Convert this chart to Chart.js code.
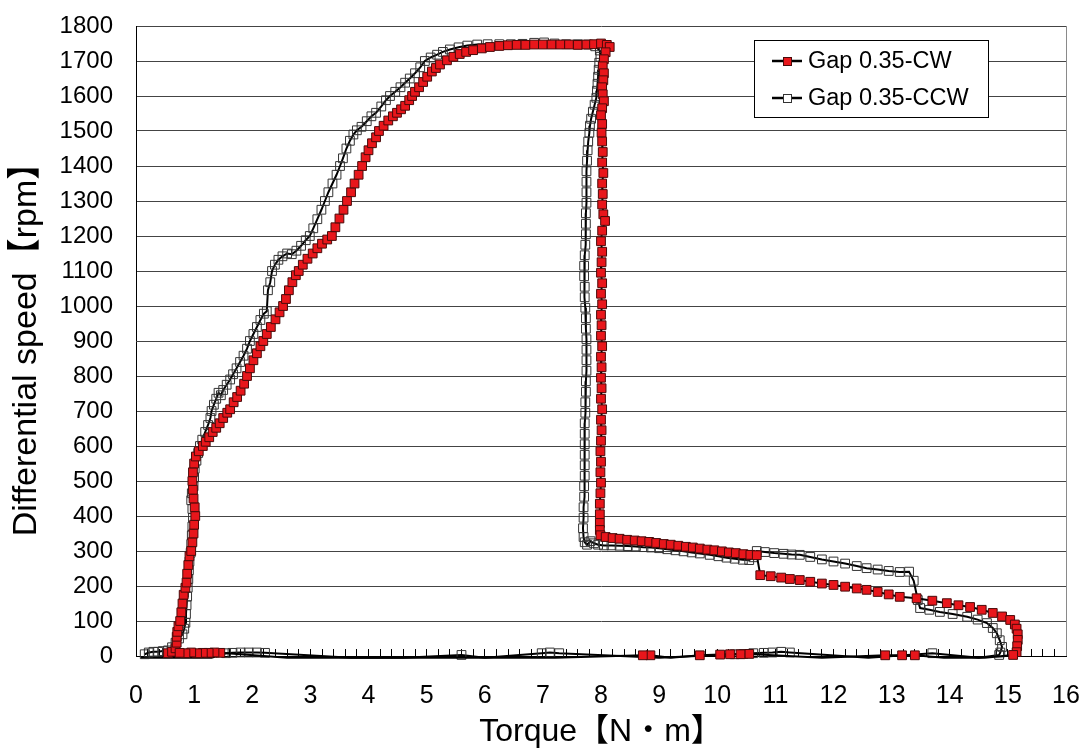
<!DOCTYPE html>
<html>
<head>
<meta charset="utf-8">
<script src="https://cdn.jsdelivr.net/npm/chart.js@4.4.1/dist/chart.umd.min.js"></script>
<style>
  html, body { margin: 0; padding: 0; background: #fff; }
  #c { display: block; }
</style>
</head>
<body>
<canvas id="c" width="1085" height="751"></canvas>
<script>
// ---------- DATA ----------
const seriesLabels = ['Gap 0.35-CW', 'Gap 0.35-CCW'];
const xTicksMin = 0, xTicksMax = 16;
const yTicksMin = 0, yTicksMax = 1800, yTickStep = 100;

// CW: rise along the left branch to the 1750 rpm plateau
const cwRiseT = [0.55,0.62,0.68,0.7,0.7,0.71,0.73,0.76,0.78,0.8, 0.82,0.85,0.87,0.88,0.9,0.92,0.95,0.97,0.99,1.0, 1.02,1.01,0.99,0.98,0.97,0.98,1.0,1.03,1.08,1.15, 1.2,1.26,1.32,1.38,1.44,1.5,1.57,1.62,1.68,1.74, 1.8,1.86,1.91,1.96,2.02,2.08,2.14,2.19,2.25,2.32, 2.4,2.47,2.53,2.58,2.63,2.69,2.75,2.8,2.87,2.95, 3.04,3.12,3.2,3.29,3.37,3.43,3.5,3.57,3.63,3.7, 3.76,3.83,3.89,3.95,4.0,4.06,4.13,4.18,4.26,4.34, 4.42,4.49,4.56,4.63,4.7,4.75,4.8,4.87,4.94,5.01, 5.09,5.16,5.23,5.35,5.46,5.57,5.68,5.8,5.95,6.09, 6.25,6.4,6.55,6.7,6.85,7.0,7.15,7.3,7.45,7.6, 7.75,7.88,8.0,8.1,8.15];
const cwRiseS = [8,12,22,38,55,69,85,100,125,150, 175,195,210,235,260,285,300,325,350,375, 400,425,450,475,500,525,550,570,585,600, 612,625,640,652,665,680,695,705,725,740, 758,778,800,822,845,865,885,900,920,940, 962,982,1000,1020,1045,1068,1088,1100,1118,1135, 1150,1165,1178,1190,1200,1225,1250,1275,1300,1325, 1350,1375,1400,1425,1445,1465,1482,1500,1515,1530, 1542,1552,1562,1572,1588,1600,1612,1625,1640,1655, 1670,1680,1690,1702,1712,1720,1726,1731,1736,1740, 1743,1745,1746,1746,1747,1747,1747,1747,1747,1746, 1747,1748,1750,1746,1740];
// CW: vertical drop at ~8 N·m
const cwDropT = [8.08,8.05,8.03,8.05,8.04,8.02,8.03,8.05,8.02,8.0, 8.02,8.01,8.02,8.03,8.02,8.04,8.02,8.03,8.02,8.04, 8.07,8.02,8.0,8.02,8.01,8.0,8.02,8.0,8.02,8.0, 8.01,8.0,8.02,8.0,8.01,8.0,8.01,8.0,8.02,8.0, 8.01,8.0,7.99,8.0,7.99,8.0,7.99,7.98,7.98,7.98, 7.98,7.99];
const cwDropS = [1725,1705,1685,1665,1645,1625,1605,1585,1565,1545, 1520,1495,1470,1440,1410,1380,1350,1320,1290,1262, 1243,1215,1185,1155,1125,1095,1065,1035,1005,975, 945,915,885,855,825,795,765,735,705,675, 645,615,585,555,525,495,465,435,405,380, 360,345];
// CW: low-speed run to ~15 N·m
const cwRunT = [8.08,8.2,8.32,8.45,8.58,8.7,8.83,8.95,9.08,9.2, 9.33,9.46,9.58,9.7,9.83,9.95,10.08,10.2,10.32,10.45, 10.57,10.68,10.74,10.92,11.1,11.25,11.42,11.6,11.8,12.0, 12.2,12.4,12.57,12.76,12.95,13.14,13.43,13.7,13.95,14.15, 14.35,14.55,14.74,14.9,15.04,15.12,15.15,15.17,15.17,15.16, 15.15,15.09];
const cwRunS = [340,337,335,332,330,328,326,323,320,318, 315,312,310,307,304,302,299,296,294,291, 289,288,231,228,224,220,217,212,207,203, 198,193,189,183,176,169,165,158,151,145, 140,132,123,113,103,90,78,62,46,28, 11,3];
// CW: return along zero speed
const cwBackT = [14.6,13.9,13.4,13.18,12.89,11.8,10.55,10.4,10.22,10.05, 9.7,9.2,8.85,8.72,7.2,5.5,3.97,3.65,2.6, 1.45,1.35,1.25,1.15,1.05,0.95,0.85,0.75];
const cwBackS = [-5,-5,2,2,2,-5,6,5,5,4, 2,-5,2,2,-5,-5,-5,-5,-5, 9,10,9,9,8,10,8,9];

// CCW: rise
const ccwRiseT = [0.15,0.22,0.3,0.38,0.46,0.55,0.62,0.68,0.74,0.8, 0.83,0.85,0.86,0.87,0.88,0.89,0.9,0.91,0.92,0.94, 0.95,0.96,0.97,0.98,0.97,0.95,0.96,0.99,1.0,1.01, 1.04,1.07,1.1,1.14,1.19,1.24,1.28,1.3,1.34,1.38, 1.42,1.46,1.5,1.56,1.62,1.67,1.73,1.79,1.85,1.91, 1.96,2.02,2.08,2.14,2.2,2.25,2.27,2.31,2.34,2.39, 2.45,2.52,2.6,2.68,2.76,2.84,2.92,2.99,3.05,3.12, 3.19,3.25,3.31,3.38,3.45,3.51,3.56,3.62,3.68,3.74, 3.8,3.88,3.97,4.05,4.13,4.22,4.3,4.37,4.46,4.55, 4.63,4.71,4.8,4.89,4.97,5.07,5.18,5.28,5.4,5.55, 5.7,5.87,6.05,6.25,6.45,6.65,6.85,7.02,7.2,7.4, 7.6,7.78,7.9,7.98];
const ccwRiseS = [5,10,12,12,14,16,25,38,50,62, 78,95,120,145,170,195,220,245,270,295, 320,345,370,395,420,445,465,485,510,535, 558,580,600,618,640,660,680,700,718,735, 752,745,760,775,790,805,822,840,858,878, 900,920,940,960,978,985,1045,1068,1100,1118, 1132,1142,1150,1148,1158,1172,1188,1200,1222,1248, 1275,1300,1325,1350,1375,1400,1422,1450,1472,1490, 1502,1512,1528,1542,1552,1570,1588,1600,1612,1625, 1638,1650,1665,1682,1700,1710,1718,1726,1733,1739, 1744,1747,1748,1748,1748,1749,1752,1753,1750,1748, 1748,1747,1742,1730];
// CCW: vertical drop at ~7.7 N·m
const ccwDropT = [7.99,7.97,7.96,7.95,7.94,7.93,7.92,7.89,7.86,7.83, 7.81,7.8,7.78,7.77,7.76,7.75,7.75,7.75,7.75,7.74, 7.74,7.74,7.73,7.72,7.71,7.71,7.72,7.72,7.73,7.74, 7.74,7.75,7.75,7.75,7.75,7.74,7.74,7.73,7.73,7.72, 7.72,7.72,7.72,7.72,7.72,7.71,7.71,7.7,7.7,7.69, 7.7,7.72,7.76];
const ccwDropS = [1712,1695,1675,1655,1635,1615,1595,1575,1555,1535, 1515,1495,1470,1445,1415,1385,1355,1325,1295,1265, 1235,1205,1175,1145,1115,1085,1055,1025,995,965, 935,905,875,845,815,785,755,725,695,665, 635,605,575,545,515,485,455,425,395,365, 340,325,318];
// CCW: low-speed run
const ccwRunT = [7.82,7.88,7.95,8.05,8.18,8.32,8.46,8.6,8.73,8.86, 9.0,9.14,9.28,9.42,9.56,9.7,9.87,10.02,10.16,10.3, 10.44,10.55,10.62,10.68,10.82,10.98,11.14,11.28,11.42,11.6, 11.8,12.0,12.2,12.4,12.57,12.76,12.95,13.14,13.3,13.38, 13.45,13.49,13.65,13.83,14.05,14.3,14.48,14.64,14.74,14.81, 14.86,14.9,14.87,14.85];
const ccwRunS = [328,322,318,316,316,315,314,313,311,310, 308,305,302,299,296,293,289,285,281,278, 275,274,282,300,297,294,292,290,289,283, 276,270,264,257,251,247,243,240,241,215, 160,137,132,126,120,112,104,94,80,65, 45,26,10,3];
// CCW: return along zero speed
const ccwBackT = [14.5,13.7,12.6,11.25,11.1,10.95,10.8,10.62,10.45,10.3, 9.0,7.28,7.12,6.98,6.0,5.6,4.6,3.7,2.22,2.08, 1.94,1.8,1.66,1.55,1.3,0.6,0.08];
const ccwBackS = [-5,8,-5,10,12,10,9,8,6,5, -5,8,10,8,-5,3,-5,-5,9,10, 10,10,9,8,-5,-5,-5];

// ---------- BUILD ----------
function toPoints(ts, ss) { return ts.map((t, i) => ({ x: t, y: ss[i] })); }
const cwPoints = [].concat(
  toPoints(cwRiseT, cwRiseS), toPoints(cwDropT, cwDropS),
  toPoints(cwRunT, cwRunS), toPoints(cwBackT, cwBackS));
const ccwPoints = [].concat(
  toPoints(ccwRiseT, ccwRiseS), toPoints(ccwDropT, ccwDropS),
  toPoints(ccwRunT, ccwRunS), toPoints(ccwBackT, ccwBackS));

const PLOT = { left: 136, right: 1066, top: 26, bottom: 656 };

// markers are hidden for samples that sit below the zero line (only the trace shows there)
function markerRadius(ctx) {
  return ctx.raw && ctx.raw.y < 0 ? 0 : 6.2;
}

const frameAndLegend = {
  id: 'frameAndLegend',
  afterDatasetsDraw(chart) {
    const { ctx, chartArea } = chart;
    ctx.save();
    ctx.strokeStyle = '#8a8a8a';
    ctx.lineWidth = 1;
    ctx.beginPath();
    ctx.moveTo(Math.round(chartArea.right) + 0.5, chartArea.top);
    ctx.lineTo(Math.round(chartArea.right) + 0.5, chartArea.bottom);
    ctx.stroke();
    ctx.restore();
  },
  afterDraw(chart) {
    const ctx = chart.ctx;
    const x0 = 754, y0 = 40, w = 234, h = 77;
    ctx.save();
    ctx.fillStyle = '#fff';
    ctx.fillRect(x0, y0, w, h);
    ctx.strokeStyle = '#000';
    ctx.lineWidth = 1;
    ctx.strokeRect(x0 + 0.5, y0 + 0.5, w, h);
    chart.data.datasets.forEach((ds, i) => {
      const cy = 61 + i * 37;
      ctx.strokeStyle = '#000';
      ctx.lineWidth = 2.5;
      ctx.beginPath();
      ctx.moveTo(772, cy);
      ctx.lineTo(802, cy);
      ctx.stroke();
      ctx.fillStyle = ds.legendFill;
      ctx.fillRect(783, cy - 4, 9, 9);
      ctx.strokeStyle = ds.pointBorderColor;
      ctx.lineWidth = 1;
      ctx.strokeRect(783.5, cy - 3.5, 8, 8);
      ctx.fillStyle = '#000';
      ctx.font = '23.5px "Liberation Sans", Arial, sans-serif';
      ctx.textBaseline = 'middle';
      ctx.textAlign = 'left';
      ctx.fillText(ds.label, 808, cy + 1);
    });
    ctx.restore();
  }
};

new Chart(document.getElementById('c'), {
  type: 'scatter',
  data: {
    datasets: [
      {
        label: seriesLabels[0],
        data: cwPoints,
        showLine: true,
        borderColor: '#000',
        borderWidth: 2,
        pointStyle: 'rect',
        pointRadius: markerRadius,
        pointBackgroundColor: '#e8161b',
        pointBorderColor: '#4a0a0a',
        pointBorderWidth: 1,
        legendFill: '#e8161b',
        clip: false,
        tension: 0
      },
      {
        label: seriesLabels[1],
        data: ccwPoints,
        showLine: true,
        borderColor: '#000',
        borderWidth: 2,
        pointStyle: 'rect',
        pointRadius: markerRadius,
        pointBackgroundColor: 'rgba(255,255,255,0)',
        pointBorderColor: '#333',
        pointBorderWidth: 1,
        legendFill: '#fff',
        clip: false,
        tension: 0
      }
    ]
  },
  options: {
    responsive: false,
    animation: false,
    events: [],
    layout: { padding: { left: 0, right: 1085 - PLOT.right, top: PLOT.top, bottom: 0 } },
    plugins: {
      legend: { display: false },
      tooltip: { enabled: false }
    },
    scales: {
      x: {
        type: 'linear',
        min: xTicksMin,
        max: xTicksMax,
        afterFit(scale) {
          scale.height = 751 - PLOT.bottom;
          scale.paddingLeft = 0;
          scale.paddingRight = 0;
        },
        border: { color: '#000', width: 1 },
        grid: { drawOnChartArea: false, drawTicks: true, tickLength: -7, color: '#000', lineWidth: 1 },
        ticks: {
          stepSize: 0.2,
          autoSkip: false,
          maxRotation: 0,
          padding: 32,
          color: '#000',
          font: { family: '"Liberation Sans", Arial, sans-serif', size: 25 },
          callback(v) {
            const r = Math.round(v);
            return Math.abs(v - r) < 1e-6 ? String(r) : '';
          }
        },
        title: {
          display: true,
          text: 'Torque【N・m】',
          color: '#000',
          font: { family: '"Liberation Sans", "Noto Sans CJK JP", sans-serif', size: 32 },
          padding: { top: 0, bottom: 0 }
        }
      },
      y: {
        type: 'linear',
        min: yTicksMin,
        max: yTicksMax,
        afterFit(scale) {
          scale.width = PLOT.left;
          scale.paddingTop = 0;
          scale.paddingBottom = 0;
        },
        border: { color: '#000', width: 1 },
        grid: { color: '#444', lineWidth: 1, drawTicks: false },
        ticks: {
          stepSize: yTickStep,
          padding: 23,
          color: '#000',
          font: { family: '"Liberation Sans", Arial, sans-serif', size: 24 },
          callback(v) { return String(v); }
        },
        title: {
          display: true,
          text: 'Differential speed【rpm】',
          color: '#000',
          font: { family: '"Liberation Sans", "Noto Sans CJK JP", sans-serif', size: 34 },
          padding: { top: 6, bottom: 0 }
        }
      }
    }
  },
  plugins: [frameAndLegend]
});
</script>
</body>
</html>
